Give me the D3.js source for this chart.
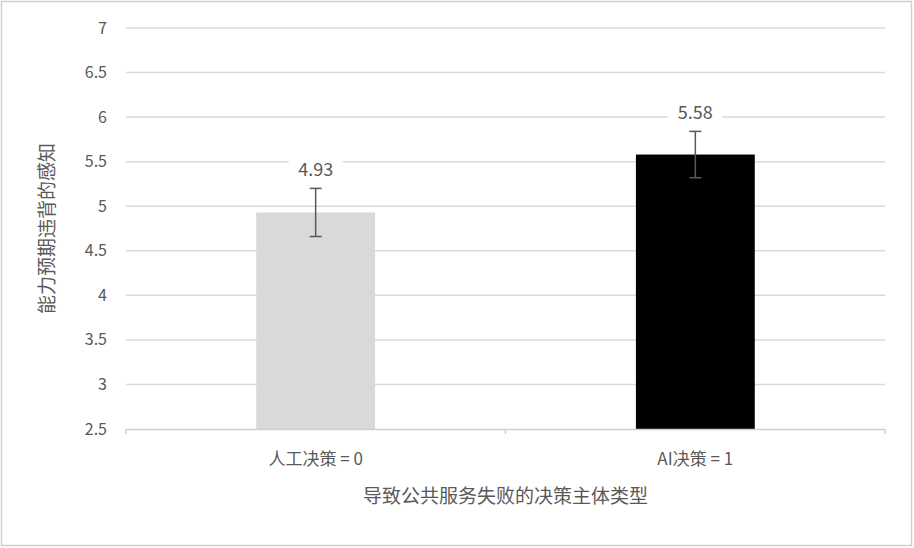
<!DOCTYPE html>
<html>
<head>
<meta charset="utf-8">
<script src="https://cdn.jsdelivr.net/npm/d3@7"></script>
<style>
  body { margin: 0; background: #fff; }
  text { font-family: "Noto Sans CJK SC", "Open Sans", sans-serif; fill: #595959; }
</style>
</head>
<body>
<svg id="chart" width="914" height="548"></svg>
<script>
// chart data
const categories = ["人工决策 = 0", "AI决策 = 1"];
const means = [4.93, 5.58];
const errors = [0.27, 0.26];
const barColors = ["#d9d9d9", "#000000"];
const yTicks = [2.5, 3, 3.5, 4, 4.5, 5, 5.5, 6, 6.5, 7];

const svg = d3.select("#chart");
const margin = { left: 126, right: 29, top: 28, bottom: 119 };
const width = 914, height = 548;

// outer frame
svg.append("rect")
    .attr("x", 1.5).attr("y", 1.5)
    .attr("width", width - 4).attr("height", height - 4)
    .attr("fill", "none").attr("stroke", "#d0d0d0").attr("stroke-width", 1.5);

// bar positions (narrow bars, wide gap like excel's gap width)
const x = d3.scaleBand()
    .domain(categories)
    .range([margin.left, width - margin.right])
    .paddingInner(0.687).paddingOuter(0.343);

const xFull = d3.scaleBand()
    .domain(categories)
    .range([margin.left, width - margin.right]);

const y = d3.scaleLinear()
    .domain([2.5, 7])
    .range([height - margin.bottom, margin.top]);

// gridlines
svg.append("g")
  .selectAll("line")
  .data(yTicks.slice(1))
  .join("line")
    .attr("x1", margin.left).attr("x2", width - margin.right)
    .attr("y1", d => y(d)).attr("y2", d => y(d))
    .attr("stroke", "#d9d9d9").attr("stroke-width", 1.5);

// y axis labels
svg.append("g")
  .selectAll("text")
  .data(yTicks)
  .join("text")
    .attr("x", margin.left - 19)
    .attr("y", d => y(d))
    .attr("dy", "0.35em")
    .attr("text-anchor", "end")
    .attr("font-size", 16)
    .text(d => d);

// bars
svg.append("g")
  .selectAll("rect")
  .data(means)
  .join("rect")
    .attr("x", (d, i) => x(categories[i]))
    .attr("width", x.bandwidth())
    .attr("y", d => y(d))
    .attr("height", d => y(2.5) - y(d))
    .attr("fill", (d, i) => barColors[i]);

// bottom axis
const xAxis = d3.axisBottom(xFull).tickSize(0).tickFormat("");
const gx = svg.append("g")
    .attr("transform", `translate(0,${y(2.5)})`)
    .call(xAxis);
gx.select(".domain").attr("stroke", "#d0d0d0").attr("stroke-width", 1.5);
gx.selectAll(".tick").remove();
[margin.left, (margin.left + width - margin.right) / 2, width - margin.right].forEach(tx => {
  gx.append("line")
      .attr("x1", tx).attr("x2", tx).attr("y1", 0).attr("y2", 5)
      .attr("stroke", "#d0d0d0").attr("stroke-width", 1.5);
});

// category labels
svg.append("g")
  .selectAll("text")
  .data(categories)
  .join("text")
    .attr("x", d => xFull(d) + xFull.bandwidth() / 2)
    .attr("y", y(2.5) + 36)
    .attr("text-anchor", "middle")
    .attr("font-size", 17)
    .text(d => d);

// error bars
const eb = svg.append("g").attr("stroke", "#595959").attr("stroke-width", 1.5);
means.forEach((m, i) => {
  const cx = x(categories[i]) + x.bandwidth() / 2;
  eb.append("line").attr("x1", cx).attr("x2", cx)
      .attr("y1", y(m + errors[i])).attr("y2", y(m - errors[i]));
  [m + errors[i], m - errors[i]].forEach(v => {
    eb.append("line").attr("x1", cx - 6).attr("x2", cx + 6)
        .attr("y1", y(v)).attr("y2", y(v));
  });
});

// value labels (with white halo over the gridlines)
means.forEach((m, i) => {
  const cx = x(categories[i]) + x.bandwidth() / 2;
  const ty = y(m + errors[i]) - 12;
  svg.append("rect")
      .attr("x", cx - 27).attr("y", ty - 16)
      .attr("width", 54).attr("height", 22)
      .attr("fill", "#fff");
  svg.append("text")
      .attr("x", cx).attr("y", ty)
      .attr("text-anchor", "middle")
      .attr("font-size", 18)
      .text(m.toFixed(2));
});

// axis titles
svg.append("text")
    .attr("x", (margin.left + width - margin.right) / 2)
    .attr("y", y(2.5) + 74)
    .attr("text-anchor", "middle")
    .attr("font-size", 19)
    .text("导致公共服务失败的决策主体类型");

svg.append("text")
    .attr("transform", `translate(54,${(y(2.5) + y(7)) / 2}) rotate(-90)`)
    .attr("text-anchor", "middle")
    .attr("font-size", 19)
    .text("能力预期违背的感知");
</script>
</body>
</html>
